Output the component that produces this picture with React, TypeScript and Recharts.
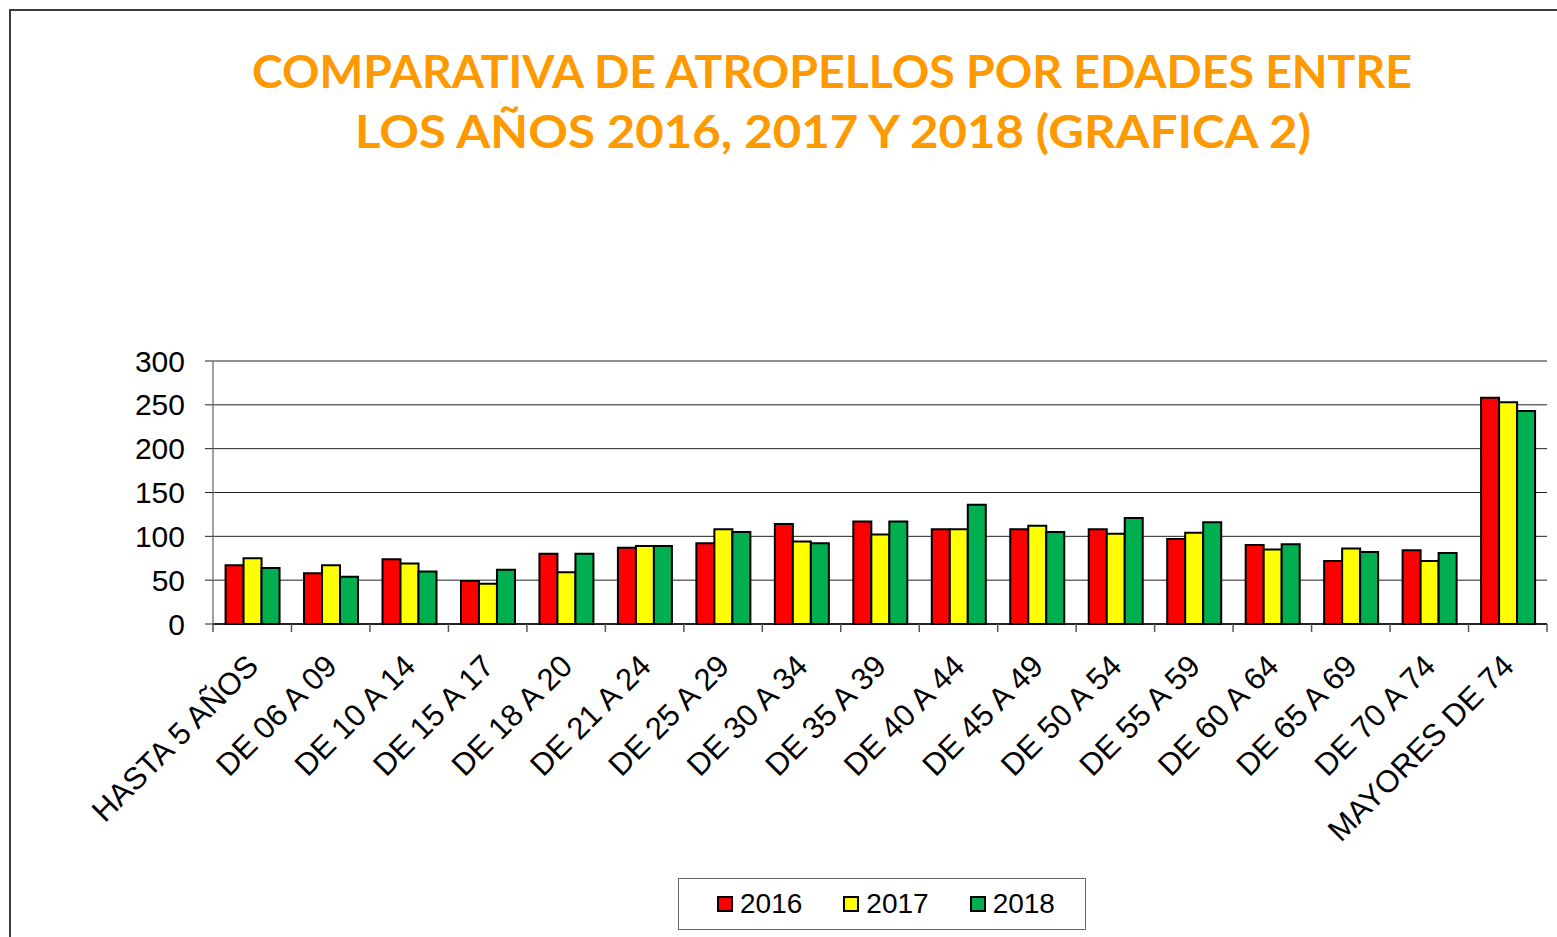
import React from 'react';
import { BarChart, Bar, XAxis, YAxis, CartesianGrid } from 'recharts';

const categories = [
  'HASTA 5 AÑOS', 'DE 06 A 09', 'DE 10 A 14', 'DE 15 A 17', 'DE 18 A 20', 'DE 21 A 24',
  'DE 25 A 29', 'DE 30 A 34', 'DE 35 A 39', 'DE 40 A 44', 'DE 45 A 49', 'DE 50 A 54',
  'DE 55 A 59', 'DE 60 A 64', 'DE 65 A 69', 'DE 70 A 74', 'MAYORES DE 74',
];
const values2016 = [67, 58, 74, 49, 80, 87, 92, 114, 117, 108, 108, 108, 97, 90, 72, 84, 258];
const values2017 = [75, 67, 69, 46, 59, 89, 108, 94, 102, 108, 112, 103, 104, 85, 86, 72, 253];
const values2018 = [64, 54, 60, 62, 80, 89, 105, 92, 117, 136, 105, 121, 116, 91, 82, 81, 243];
const seriesNames = ['2016', '2017', '2018'];
const seriesColors = ['#FF0000', '#FFFF00', '#00B050'];
const yTicks = [0, 50, 100, 150, 200, 250, 300];
const titleLines = [
  'COMPARATIVA DE ATROPELLOS POR EDADES ENTRE',
  'LOS AÑOS 2016, 2017 Y 2018 (GRAFICA 2)',
];

const data = categories.map((c, i) => ({
  name: c,
  '2016': values2016[i],
  '2017': values2017[i],
  '2018': values2018[i],
}));

const W = 1557;
const H = 937;
const X_AXIS_H = 40;
const M = { top: 361, right: 10, bottom: 313 - X_AXIS_H, left: 113 };
const Y_AXIS_W = 100;
const PLOT_W = W - M.left - Y_AXIS_W - M.right;
const BAND = PLOT_W / categories.length;
const FONT = '"Liberation Sans", Arial, sans-serif';

const renderXTick = (props: any) => {
  const { x, y, payload, index } = props;
  const half = BAND / 2;
  const isLast = index === categories.length - 1;
  const ax = x + 8;
  const ay = y + 44;
  return (
    <g key={`t-${index}`}>
      <line x1={x - half} x2={x - half} y1={y} y2={y + 8} stroke="#555" strokeWidth={1.5} />
      {isLast && <line x1={x + half} x2={x + half} y1={y} y2={y + 8} stroke="#555" strokeWidth={1.5} />}
      <text
        x={ax}
        y={ay}
        textAnchor="end"
        transform={`rotate(-45, ${ax}, ${ay})`}
        fontSize={31}
        fontFamily={FONT}
        fill="#000"
      >
        {payload.value}
      </text>
    </g>
  );
};

export default function App() {
  return (
    <div style={{ position: 'absolute', left: 0, top: 0, width: W, height: H, overflow: 'hidden', background: '#fff' }}>
      <div
        style={{
          position: 'absolute', left: 9, top: 9, width: 1700, height: 1100,
          borderTop: '2px solid #3c3c3c', borderLeft: '2px solid #3c3c3c',
        }}
      />
      <svg style={{ position: 'absolute', left: 0, top: 0 }} width={W} height={200}>
        <text x={832} y={88} textAnchor="middle" fontFamily="Lato, sans-serif" fontWeight={700} fontSize={45}
          fill="#FF9900" textLength={1160} lengthAdjust="spacingAndGlyphs">{titleLines[0]}</text>
        <text x={833} y={148} textAnchor="middle" fontFamily="Lato, sans-serif" fontWeight={700} fontSize={45}
          fill="#FF9900" textLength={956} lengthAdjust="spacingAndGlyphs">{titleLines[1]}</text>
      </svg>
      <div style={{ position: 'absolute', left: 0, top: 0 }}>
        <BarChart width={W} height={H} data={data} margin={M} barCategoryGap="16%" barGap={0}>
          <CartesianGrid vertical={false} stroke="#222" strokeWidth={1} />
          <XAxis
            dataKey="name"
            height={X_AXIS_H}
            interval={0}
            tickSize={0}
            tickMargin={0}
            tickLine={false}
            axisLine={{ stroke: '#000', strokeWidth: 1.5 }}
            tick={renderXTick}
          />
          <YAxis
            width={Y_AXIS_W}
            domain={[0, 300]}
            ticks={yTicks}
            interval={0}
            tickSize={8}
            tickMargin={20}
            axisLine={{ stroke: '#808080', strokeWidth: 1.5 }}
            tickLine={{ stroke: '#222', strokeWidth: 1 }}
            tick={{ fontSize: 30, fontFamily: FONT, fill: '#000' }}
          />
          {seriesNames.map((s, i) => (
            <Bar key={s} dataKey={s} fill={seriesColors[i]} stroke="#000" strokeWidth={2} isAnimationActive={false} />
          ))}
        </BarChart>
      </div>
      <div
        style={{
          position: 'absolute', left: 678, top: 878, width: 408, height: 52, boxSizing: 'border-box',
          border: '1.5px solid #666', display: 'flex', alignItems: 'center', justifyContent: 'center', gap: 41,
          paddingLeft: 8, fontFamily: FONT, fontSize: 28, color: '#000',
        }}
      >
        {seriesNames.map((s, i) => (
          <div key={s} style={{ display: 'flex', alignItems: 'center', gap: 7 }}>
            <span style={{ display: 'inline-block', width: 12, height: 12, background: seriesColors[i], border: '2px solid #000' }} />
            <span style={{ lineHeight: '28px' }}>{s}</span>
          </div>
        ))}
      </div>
    </div>
  );
}
